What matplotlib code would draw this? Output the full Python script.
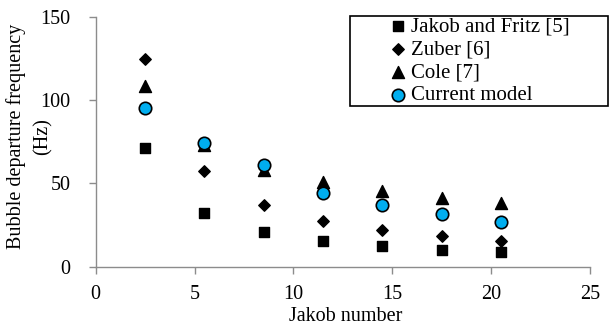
import matplotlib
matplotlib.use("Agg")
import matplotlib.pyplot as plt
from matplotlib.patches import Rectangle

plt.rcParams['font.family'] = ['Liberation Serif', 'DejaVu Serif']

jakob = [2.5, 5.5, 8.5, 11.5, 14.5, 17.5, 20.5]
jakob_fritz = [71, 32.5, 21, 15.5, 12.5, 10, 9]
zuber = [124.5, 57.5, 37, 27.5, 22, 18.5, 15.5]
cole = [108.5, 73, 58, 51, 45.5, 41.5, 38.5]
current = [95, 74.5, 61, 44, 37, 31.5, 27]

W, H = 609, 326
fig = plt.figure(figsize=(W / 100, H / 100), dpi=100)
ax = fig.add_axes([95.7 / W, 1 - 266.7 / H, (590 - 95.7) / W, 250 / H])

ax.scatter(jakob, jakob_fritz, marker='s', s=62, color='black', label='Jakob and Fritz [5]', zorder=3)
ax.scatter(jakob, zuber, marker='D', s=34, color='black', label='Zuber [6]', zorder=3)
ax.scatter(jakob, cole, marker='^', s=75, color='black', label='Cole [7]', zorder=3)
ax.scatter(jakob, current, marker='o', s=80, facecolor='#00AEEF', edgecolor='black',
           linewidth=1.2, label='Current model', zorder=4)

ax.set_xlim(0, 25)
ax.set_ylim(0, 150)
ax.set_xticks([0, 5, 10, 15, 20, 25])
ax.set_yticks([0, 50, 100, 150])

for side in ['top', 'right']:
    ax.spines[side].set_visible(False)
for side in ['left', 'bottom']:
    ax.spines[side].set_color('#8c8c8c')
    ax.spines[side].set_linewidth(1.0)
ax.tick_params(axis='both', direction='out', color='#8c8c8c', length=5, width=1.0,
               labelsize=14.5)
ax.tick_params(axis='x', pad=8)
ax.tick_params(axis='y', pad=13)

fig.text(346 / W, 5 / H, 'Jakob number', fontsize=14.5, ha='center', va='baseline')
fig.text(16 / W, 1 - 136.5 / H, 'Bubble departure frequency', fontsize=14.5,
         ha='center', va='center', rotation=90)
fig.text(42.5 / W, 1 - 136.5 / H, '(Hz)', fontsize=14.5,
         ha='center', va='center', rotation=90)

leg = ax.legend(loc='center left', bbox_to_anchor=(388 / W, 1 - 61.3 / H), bbox_transform=fig.transFigure,
                fontsize=15, frameon=False, handletextpad=0.1, handlelength=1.0,
                borderpad=0, labelspacing=0.16, borderaxespad=0)
fig.patches.append(Rectangle((350 / W, 1 - 106 / H), 258 / W, 90.3 / H, transform=fig.transFigure,
                             fill=False, edgecolor='black', linewidth=1.2))

fig.savefig('out.png', dpi=100)
